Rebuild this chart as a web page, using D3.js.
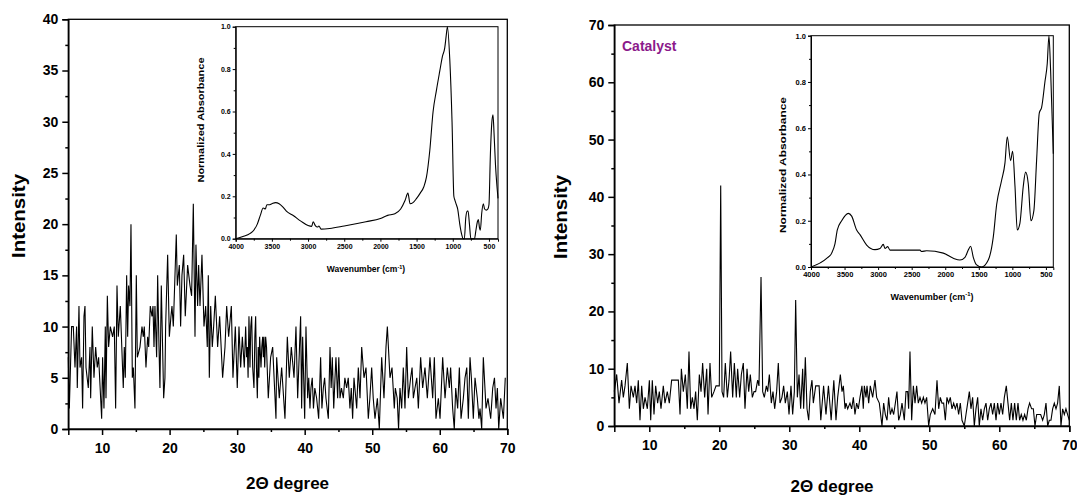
<!DOCTYPE html>
<html>
<head>
<meta charset="utf-8">
<script src="https://cdnjs.cloudflare.com/ajax/libs/d3/7.8.5/d3.min.js"></script>
<style>
  html, body { margin: 0; padding: 0; background: #fff; }
  svg { display: block; }
  text { font-family: "Liberation Sans", Arial, sans-serif; }
</style>
</head>
<body>
<svg id="chart" width="1077" height="498"></svg>
<script>
// ---------------- DATA ----------------
// Left panel XRD (2θ, intensity)
const xrdAngleA = [5.00,5.15,5.49,5.74,5.99,6.23,6.33,6.58,6.73,6.97,7.12,7.32,7.47,7.62,7.96,8.21,8.31,8.55,8.80,9.05,9.29,9.49,9.94,10.08,10.28,10.48,10.58,10.78,10.97,11.22,11.56,11.81,12.01,12.21,12.40,12.70,13.14,13.29,13.44,13.64,13.79,13.93,14.13,14.28,14.48,14.63,14.87,15.07,15.22,15.61,15.91,16.11,16.25,16.50,16.75,16.90,17.14,17.39,17.54,17.69,17.83,18.08,18.23,18.43,18.57,18.77,19.12,19.31,19.41,19.71,19.96,20.20,20.35,20.55,20.99,21.14,21.44,21.63,21.83,22.08,22.32,22.67,23.02,23.26,23.51,23.76,23.90,24.15,24.30,24.50,24.79,25.09,25.34,25.58,25.73,25.88,26.08,26.32,26.52,26.77,27.11,27.41,27.85,28.20,28.45,28.74,29.14,29.38,29.73,30.02,30.27,30.52,30.77,31.06,31.26,31.40,31.51,31.62,31.75,31.90,32.02,32.15,32.30,32.49,32.62,32.74,32.86,32.99,33.12,33.22,33.33,33.53,33.65,33.78,33.88,33.97,34.08,34.22,34.35,34.45,34.61,34.96,35.26,35.75,35.85,36.24,36.59,37.08,37.43,37.72,38.02,38.42,38.71,38.96,39.40,39.55,39.70,40.00,40.19,40.44,40.60,40.78,40.93,41.12,41.30,41.50,41.77,42.07,42.36,42.55,42.76,42.95,43.15,43.50,43.75,43.92,44.09,44.30,44.49,44.63,44.88,45.05,45.23,45.45,45.72,45.95,46.21,46.45,46.70,46.90,47.10,47.30,47.70,47.94,48.19,48.44,48.78,49.08,49.42,49.65,49.92,50.15,50.41,50.76,51.05,51.40,51.74,52.04,52.24,52.63,52.93,53.27,53.42,53.70,53.90,54.11,54.36,54.60,54.85,55.10,55.35,55.69,55.90,56.09,56.33,56.60,56.83,57.17,57.47,57.81,58.16,58.55,58.95,59.20,59.44,59.79,60.04,60.43,60.78,61.12,61.42,61.61,61.91,62.15,62.36,62.65,62.90,63.15,63.49,63.74,64.00,64.23,64.48,64.68,64.97,65.22,65.56,65.80,65.96,66.21,66.45,66.85,67.14,67.54,67.84,68.10,68.33,68.53,68.73,69.02,69.42,69.70,70.00];
const xrdIntensityA = [7,2,10,10,6,10,4,12,6,7,2,11,12,6,4,8,3,10,5,8,6,7,1,7,2,10,3,13,8,10,9,10,2,14,9,12,4,8,5,15,9,14,12,20,5,6,2,15,7,8,10,9,10,6,9,8,12,11,12,8,12,7,15,8,4,14,3,5,10,17,9,11,12,10,19,14,16,10,15,17,11,16,14,13,22,9,18,12,16,12,17,10,12,8,15,5,12,8,10,13,8,11,5,8,12,9,12,5,10,4,10,6,9,6,10,7,8,5,11,6,10,11,6,4,9,11,6,3,8,5,9,6,8,9,7,9,6,9,8,6,3,7,8,1,7,3,6,1,9,5,8,5,10,3,11,2,9,1,10,3,5,2,4,5,2,4,3,1,7,2,4,5,3,1,8,4,7,2,5,7,3,7,3,4,3,5,4,5,2,4,1,5,2,6,3,8,5,6,1,3,6,3,1,3,0,7,3,8,10,5,6,2,4,3,0,4,2,6,2,8,3,5,6,3,4,5,2,7,4,6,3,7,3,7,1,3,1,7,3,6,4,6,2,0,4,2,6,1,3,5,6,1,7,5,1,5,3,1,2,0,7,2,3,1,4,5,2,4,0,3,1,5];

// Right panel XRD "Catalyst" (2θ, intensity)
const xrdAngleB = [5.00,5.34,5.67,6.05,6.29,6.53,6.86,7.15,7.39,7.72,7.96,8.20,8.43,8.67,8.91,9.15,9.39,9.72,10.01,10.20,10.43,10.67,10.91,11.19,11.43,11.67,12.00,12.24,12.57,12.86,13.19,13.53,13.91,14.15,14.39,14.58,14.86,15.15,15.43,15.67,15.91,16.15,16.39,16.62,16.86,17.15,17.39,17.62,17.91,18.20,18.39,18.67,18.91,19.24,19.53,19.86,20.00,20.20,20.39,20.62,20.86,21.15,21.39,21.62,21.91,22.15,22.43,22.62,22.91,23.15,23.43,23.67,23.96,24.20,24.43,24.72,24.96,25.19,25.48,25.67,25.96,26.20,26.43,26.72,26.91,27.15,27.43,27.67,27.91,28.19,28.43,28.67,28.95,29.19,29.43,29.72,29.96,30.24,30.48,30.72,30.91,31.15,31.39,31.62,31.91,32.05,32.29,32.53,32.77,33.00,33.24,33.43,33.77,34.00,34.26,34.50,34.90,35.24,35.59,35.98,36.36,36.67,36.91,37.29,37.53,37.72,37.96,38.10,38.34,38.67,38.91,39.15,39.38,39.62,39.86,40.10,40.38,40.57,40.72,40.96,41.10,41.34,41.57,41.91,42.24,42.48,42.86,43.24,43.48,43.72,43.96,44.19,44.43,44.67,44.91,45.15,45.38,45.62,45.86,46.10,46.43,46.67,46.91,47.05,47.24,47.48,47.72,47.96,48.19,48.43,48.67,48.91,49.15,49.38,49.62,49.91,50.14,50.48,50.81,51.10,51.34,51.57,51.81,52.05,52.29,52.52,52.76,53.00,53.24,53.48,53.72,53.96,54.19,54.43,54.67,55.00,55.24,55.48,55.72,55.95,56.19,56.43,56.67,56.91,57.14,57.38,57.62,57.86,58.10,58.34,58.57,58.81,59.05,59.29,59.53,59.76,60.00,60.24,60.48,60.72,61.00,61.24,61.48,61.72,61.95,62.19,62.43,62.67,62.90,63.14,63.38,63.62,63.86,64.10,64.33,64.62,64.86,65.10,65.34,65.62,65.91,66.19,66.43,66.67,66.91,67.14,67.38,67.62,67.86,68.10,68.33,68.57,68.81,69.05,69.29,69.52,69.76,70.00];
const xrdIntensityB = [6,9,4,8,5,7,11,3,7,5,7,4,8,1,7,3,5,3,8,1,8,2,7,4,6,3,7,4,6,4,8,8,8,8,2,10,6,9,3,13,3,5,3,6,1,9,6,11,5,10,2,11,5,6,7,7,7,42,6,5,11,5,8,13,5,11,5,10,5,9,11,3,10,6,9,5,6,6,8,7,26,6,5,7,6,9,4,6,3,6,11,4,5,7,4,6,2,7,2,6,22,5,9,3,10,3,12,3,1,6,8,4,7,7,7,1,7,2,7,1,8,1,5,9,6,7,3,4,3,4,3,5,2,4,3,5,7,3,7,5,7,4,7,5,8,5,4,0,4,2,1,5,2,3,2,4,6,1,2,4,1,6,6,3,13,1,7,4,7,4,5,4,5,4,5,0,2,3,2,8,3,5,4,4,1,5,4,5,3,4,3,4,2,4,1,0,2,4,6,3,5,0,3,5,0,3,1,3,4,1,3,4,2,4,1,4,2,4,2,5,7,4,1,4,1,4,1,4,1,2,1,2,1,3,4,3,3,0,2,2,2,1,2,4,0,1,1,3,4,3,4,7,0,3,2,3,2,1];

// Left inset FTIR (wavenumber, normalized absorbance)
const ftirWaveA = [4000,3900,3800,3750,3700,3660,3620,3590,3570,3540,3500,3450,3400,3350,3300,3200,3100,3000,2950,2930,2900,2870,2850,2820,2700,2500,2200,2000,1900,1800,1720,1660,1620,1590,1550,1500,1450,1400,1364,1318,1272,1226,1180,1143,1111,1090,1074,1042,1010,985,969,950,932,904,877,858,840,820,800,789,770,750,720,700,680,660,647,630,619,600,578,560,536,515,500,480,460,444,430,410,390,375];
const ftirAbsA  = [0.0,0.01,0.025,0.04,0.07,0.11,0.145,0.14,0.16,0.16,0.165,0.17,0.165,0.15,0.13,0.108,0.083,0.062,0.058,0.08,0.062,0.055,0.06,0.045,0.048,0.06,0.08,0.095,0.11,0.118,0.14,0.18,0.215,0.165,0.17,0.19,0.215,0.245,0.29,0.415,0.6,0.7,0.79,0.86,0.9,0.96,1.0,0.85,0.55,0.2,0.18,0.16,0.14,0.07,0.02,0.0,0.0,0.1,0.13,0.13,0.07,0.0,0.0,0.0,0.04,0.08,0.09,0.05,0.04,0.12,0.165,0.14,0.135,0.14,0.16,0.4,0.55,0.585,0.5,0.35,0.25,0.19];

// Right inset FTIR (wavenumber, normalized absorbance)
const ftirWaveB = [4000,3767,3692,3643,3608,3543,3444,3394,3320,3270,3171,3047,2972,2923,2898,2858,2823,2376,2352,2277,2029,1880,1781,1706,1657,1622,1582,1532,1458,1359,1284,1234,1160,1110,1076,1026,996,961,927,887,837,803,763,723,679,639,599,564,515,480,455,430,390];
const ftirAbsB  = [0.0,0.037,0.06,0.1,0.16,0.2,0.232,0.22,0.16,0.14,0.095,0.075,0.08,0.098,0.08,0.088,0.073,0.073,0.067,0.07,0.06,0.038,0.03,0.042,0.073,0.09,0.042,0.009,0.0,0.03,0.13,0.27,0.375,0.45,0.563,0.46,0.5,0.35,0.16,0.19,0.35,0.41,0.36,0.2,0.245,0.46,0.665,0.69,0.8,0.88,1.0,0.85,0.49];

// Tick values
const xrdXTicks = [10,20,30,40,50,60,70];
const xrdXMinor = [15,25,35,45,55,65];
const leftYTicks = [0,5,10,15,20,25,30,35,40];
const leftYMinor = [2.5,7.5,12.5,17.5,22.5,27.5,32.5,37.5];
const rightYTicks = [0,10,20,30,40,50,60,70];
const rightYMinor = [5,15,25,35,45,55,65];
const ftirXTicks = [4000,3500,3000,2500,2000,1500,1000,500];
const ftirXMinor = [3750,3250,2750,2250,1750,1250,750];
const ftirYTicks = [0,0.2,0.4,0.6,0.8,1.0];
const ftirYMinor = [0.1,0.3,0.5,0.7,0.9];

// ---------------- DRAWING ----------------
const svg = d3.select("#chart");
const FONT = "'Liberation Sans', Arial, sans-serif";

function zip(a, b) { return a.map((v, i) => [v, b[i]]); }

function styleAxis(g, width, fontSize) {
  g.selectAll("path.domain").attr("stroke", "#000").attr("stroke-width", width);
  g.selectAll(".tick line").attr("stroke", "#000").attr("stroke-width", width);
  g.selectAll(".tick text").attr("font-family", FONT).attr("font-weight", "bold")
    .attr("font-size", fontSize).attr("fill", "#000");
}

function drawMain(p) {
  const x = d3.scaleLinear().domain([5, 70]).range([p.x0, p.x1]);
  const y = d3.scaleLinear().domain(p.yDomain).range([p.y1, p.y0]);
  const g = svg.append("g");

  // frame
  g.append("rect").attr("x", p.x0).attr("y", p.y0).attr("width", p.x1 - p.x0).attr("height", p.y1 - p.y0)
    .attr("fill", "none").attr("stroke", "#000").attr("stroke-width", 1.3);

  // data
  g.append("path").datum(zip(p.xs, p.ys))
    .attr("fill", "none").attr("stroke", "#000").attr("stroke-width", 1.1).attr("stroke-linejoin", "miter")
    .attr("d", d3.line().x(d => x(d[0])).y(d => y(d[1])));

  // axes
  const ax = g.append("g").attr("transform", `translate(0,${p.y1})`)
    .call(d3.axisBottom(x).tickValues(xrdXTicks).tickSize(6).tickPadding(5).tickFormat(d3.format("d")));
  styleAxis(ax, 1.5, p.tickFont);
  ax.selectAll(".tick text").attr("dy", "0.95em");
  const axm = g.append("g").attr("transform", `translate(0,${p.y1})`)
    .call(d3.axisBottom(x).tickValues(xrdXMinor).tickSize(3).tickFormat(""));
  styleAxis(axm, 1.5, p.tickFont);
  axm.select("path.domain").remove();

  const ay = g.append("g").attr("transform", `translate(${p.x0},0)`)
    .call(d3.axisLeft(y).tickValues(p.yTicks).tickSize(6).tickPadding(4).tickFormat(d3.format("d")));
  styleAxis(ay, 1.5, p.tickFont);
  const aym = g.append("g").attr("transform", `translate(${p.x0},0)`)
    .call(d3.axisLeft(y).tickValues(p.yMinor).tickSize(3).tickFormat(""));
  styleAxis(aym, 1.5, p.tickFont);
  aym.select("path.domain").remove();

  // titles
  g.append("text").attr("transform", `translate(${p.yTitleX},${p.yTitleY}) rotate(-90)`)
    .attr("text-anchor", "middle").attr("dominant-baseline", "central")
    .attr("font-family", FONT).attr("font-weight", "bold").attr("font-size", 18)
    .attr("textLength", 84).attr("lengthAdjust", "spacingAndGlyphs")
    .text("Intensity");
  g.append("text").attr("x", p.xTitleX).attr("y", p.xTitleY)
    .attr("text-anchor", "middle")
    .attr("font-family", FONT).attr("font-weight", "bold").attr("font-size", 17)
    .text("2Θ degree");
  return g;
}

function drawInset(p) {
  const x = d3.scaleLinear().domain([4000, p.xEnd]).range([p.x0, p.x1]);
  const y = d3.scaleLinear().domain([0, 1]).range([p.y1, p.y0]);
  const g = svg.append("g");
  g.append("rect").attr("x", p.x0).attr("y", p.y0).attr("width", p.x1 - p.x0).attr("height", p.y1 - p.y0)
    .attr("fill", "#fff").attr("stroke", "#000").attr("stroke-width", 1);

  g.append("path").datum(zip(p.wn, p.ab))
    .attr("fill", "none").attr("stroke", "#000").attr("stroke-width", 1.1)
    .attr("d", d3.line().curve(d3.curveMonotoneX).x(d => x(d[0])).y(d => y(d[1])));

  const ax = g.append("g").attr("transform", `translate(0,${p.y1})`)
    .call(d3.axisBottom(x).tickValues(ftirXTicks).tickSize(3).tickPadding(2).tickFormat(d3.format("d")));
  styleAxis(ax, 1, p.tickFont);
  const axm = g.append("g").attr("transform", `translate(0,${p.y1})`)
    .call(d3.axisBottom(x).tickValues(ftirXMinor).tickSize(2).tickFormat(""));
  styleAxis(axm, 1, p.tickFont);
  axm.select("path.domain").remove();

  const ay = g.append("g").attr("transform", `translate(${p.x0},0)`)
    .call(d3.axisLeft(y).tickValues(ftirYTicks).tickSize(3).tickPadding(2).tickFormat(d3.format(".1f")));
  styleAxis(ay, 1, p.tickFont);
  const aym = g.append("g").attr("transform", `translate(${p.x0},0)`)
    .call(d3.axisLeft(y).tickValues(ftirYMinor).tickSize(2).tickFormat(""));
  styleAxis(aym, 1, p.tickFont);
  aym.select("path.domain").remove();

  g.append("text").attr("transform", `translate(${p.yTitleX},${p.yTitleY}) rotate(-90)`)
    .attr("text-anchor", "middle").attr("dominant-baseline", "central")
    .attr("font-family", FONT).attr("font-weight", "bold").attr("font-size", p.titleFont)
    .attr("textLength", p.yTitleLen).attr("lengthAdjust", "spacingAndGlyphs")
    .text("Normalized Absorbance");
  const t = g.append("text").attr("x", p.xTitleX).attr("y", p.xTitleY)
    .attr("text-anchor", "middle")
    .attr("font-family", FONT).attr("font-weight", "bold").attr("font-size", p.titleFont);
  t.append("tspan").text("Wavenumber (cm");
  t.append("tspan").attr("dy", -p.titleFont * 0.4).attr("font-size", p.titleFont * 0.65).text("-1");
  t.append("tspan").attr("dy", p.titleFont * 0.4).text(")");
}

// Left panel
drawMain({
  x0: 68.3, x1: 507.3, y0: 19.3, y1: 429, yDomain: [0, 40],
  xs: xrdAngleA, ys: xrdIntensityA, yTicks: leftYTicks, yMinor: leftYMinor,
  tickFont: 14, yTitleX: 18.5, yTitleY: 216, xTitleX: 287.5, xTitleY: 489
});
drawInset({
  x0: 235.7, x1: 498, y0: 26.7, y1: 238.7, xEnd: 375, wn: ftirWaveA, ab: ftirAbsA,
  tickFont: 7, titleFont: 8.5, yTitleX: 201, yTitleY: 120, yTitleLen: 125,
  xTitleX: 366, xTitleY: 272
});

// Right panel
drawMain({
  x0: 614.3, x1: 1069.3, y0: 25, y1: 426, yDomain: [0, 70],
  xs: xrdAngleB, ys: xrdIntensityB, yTicks: rightYTicks, yMinor: rightYMinor,
  tickFont: 14, yTitleX: 561, yTitleY: 217, xTitleX: 832, xTitleY: 492
});
drawInset({
  x0: 811, x1: 1053.3, y0: 35.7, y1: 267, xEnd: 390, wn: ftirWaveB, ab: ftirAbsB,
  tickFont: 7.5, titleFont: 9, yTitleX: 783, yTitleY: 165, yTitleLen: 136,
  xTitleX: 932, xTitleY: 300
});

svg.append("text").attr("x", 622).attr("y", 51)
  .attr("font-family", FONT).attr("font-weight", "bold").attr("font-size", 14)
  .attr("fill", "#8B1A8B").text("Catalyst");
</script>
</body>
</html>
